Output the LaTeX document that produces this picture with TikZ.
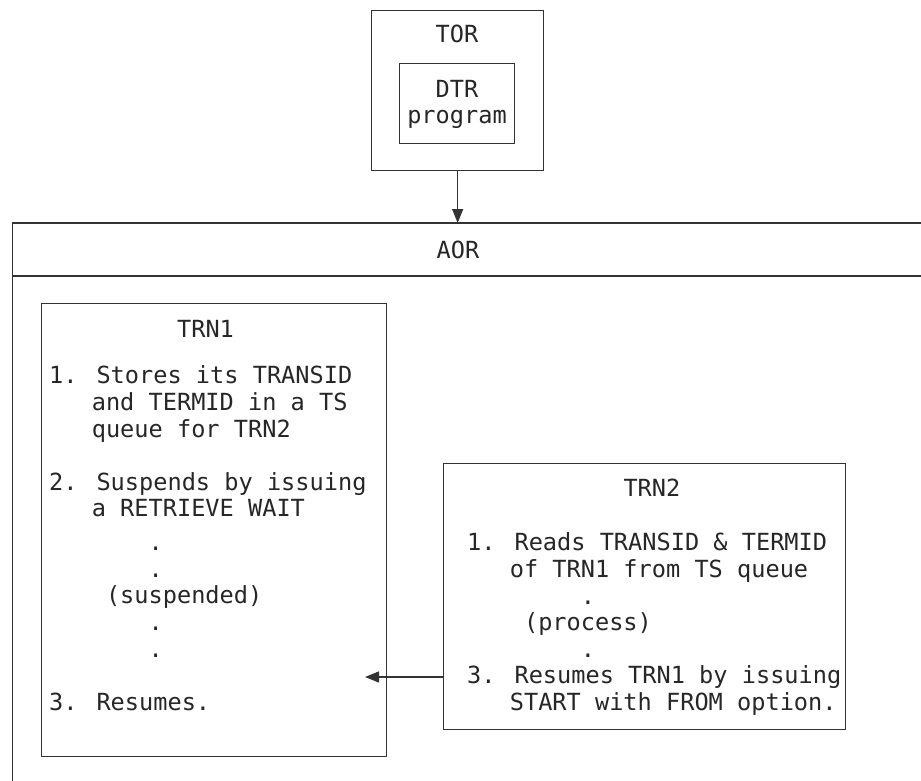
\documentclass[tikz,border=0pt]{standalone}
\usepackage{fontspec}
\newfontfamily\diagmono{DejaVu Sans Mono}
\usetikzlibrary{arrows.meta}
\begin{document}
\begin{tikzpicture}[x=1pt,y=-1pt,
  box/.style={draw=black!80, line width=1.3pt, inner sep=0pt, anchor=north west},
  ln/.style={draw=black!80, line width=1.3pt},
  txt/.style={anchor=base west, inner sep=0pt, text=black!85, font=\diagmono\fontsize{23.6}{27}\selectfont},
  ctxt/.style={txt, anchor=base},
  arr/.style={ln, -{Triangle[length=14pt,width=11pt]}}]
\useasboundingbox (0,0) rectangle (921,781);
% TOR
\node[box, minimum width=172pt, minimum height=160pt] (tor) at (371,10) {};
\node[ctxt] (tortxt) at (457,43) {TOR};
\node[box, minimum width=115pt, minimum height=80pt] (dtr) at (399,63) {};
\node[ctxt] (dtr1) at (457,98) {DTR};
\node[ctxt] (dtr2) at (457,124) {program};
% AOR (open region)
\coordinate (aortl) at (12.7,223);
\coordinate (aortr) at (921,223);
\coordinate (aorhl) at (12.7,276);
\coordinate (aorhr) at (921,276);
\coordinate (aorbl) at (12.7,781);
\draw[ln] (aortr) -- (aortl) -- (aorbl);
\draw[ln] (aorhl) -- (aorhr);
\node[ctxt] (aortxt) at (458,258) {AOR};
\coordinate (aortop) at (457,223);
\draw[arr] (tor.south) -- (tor.south |- aortop);
% TRN1
\node[box, minimum width=345pt, minimum height=453pt] (trn1) at (41,303) {};
\def\ca{49}
\def\cw{14.21}
\node[txt] (t1a) at ({\ca+9*\cw},337) {TRN1};
\node[txt] (t1b) at (\ca,383) {1. Stores its TRANSID};
\node[txt] (t1c) at ({\ca+3*\cw},410) {and TERMID in a TS};
\node[txt] (t1d) at ({\ca+3*\cw},437) {queue for TRN2};
\node[txt] (t1e) at (\ca,490) {2. Suspends by issuing};
\node[txt] (t1f) at ({\ca+3*\cw},516) {a RETRIEVE WAIT};
\node[txt] (t1g) at ({\ca+7*\cw},550) {.};
\node[txt] (t1h) at ({\ca+7*\cw},577) {.};
\node[txt] (t1i) at ({\ca+4*\cw},603) {(suspended)};
\node[txt] (t1j) at ({\ca+7*\cw},630) {.};
\node[txt] (t1k) at ({\ca+7*\cw},657) {.};
\node[txt] (t1l) at (\ca,710) {3. Resumes.};
% TRN2
\node[box, minimum width=402pt, minimum height=266pt] (trn2) at (443,463) {};
\def\cb{467}
\node[txt] (t2a) at ({\cb+11*\cw},496) {TRN2};
\node[txt] (t2b) at (\cb,550) {1. Reads TRANSID \& TERMID};
\node[txt] (t2c) at ({\cb+3*\cw},577) {of TRN1 from TS queue};
\node[txt] (t2d) at ({\cb+8*\cw},604) {.};
\node[txt] (t2e) at ({\cb+4*\cw},630) {(process)};
\node[txt] (t2f) at ({\cb+8*\cw},657) {.};
\node[txt] (t2g) at (\cb,683) {3. Resumes TRN1 by issuing};
\node[txt] (t2h) at ({\cb+3*\cw},710) {START with FROM option.};
% connector TRN2 -> TRN1
\coordinate (resume) at (365,677);
\draw[arr] (trn2.west |- resume) -- (resume);
\end{tikzpicture}
\end{document}
